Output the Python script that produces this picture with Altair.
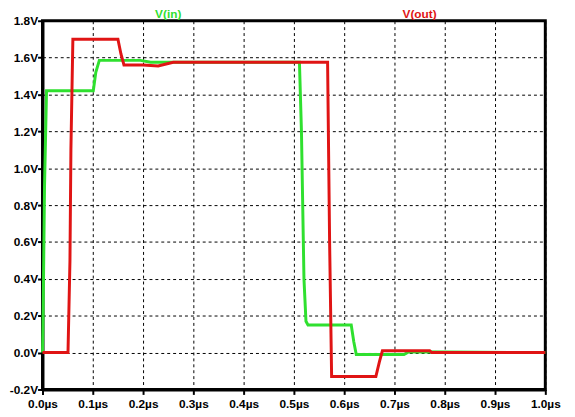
import altair as alt
import pandas as pd

# ---- data ----
time_in = [0.0, 0.001, 0.004, 0.008, 0.101, 0.106, 0.113, 0.195, 0.215, 0.24,
           0.511, 0.515, 0.520, 0.524, 0.528, 0.614, 0.619, 0.624, 0.719, 0.729,
           0.80, 1.0]
volt_in = [0.0, 0.15, 0.9, 1.42, 1.42, 1.52, 1.585, 1.585, 1.575, 1.575,
           1.575, 1.2, 0.4, 0.17, 0.15, 0.15, 0.06, -0.01, -0.01, 0.005,
           0.003, 0.0]

time_out = [0.0, 0.0507, 0.0546, 0.0565, 0.0604, 0.150, 0.156, 0.162, 0.20,
            0.23, 0.26, 0.567, 0.571, 0.575, 0.663, 0.670, 0.676, 0.770,
            0.774, 1.0]
volt_out = [0.0, 0.0, 0.5, 1.1, 1.70, 1.70, 1.62, 1.56, 1.56,
            1.555, 1.575, 1.575, 0.6, -0.13, -0.13, -0.05, 0.01, 0.01,
            0.0, 0.0]

trace_names = ["V(in)", "V(out)"]
label_times = [0.25, 0.75]
x_ticks = [0.0, 0.1, 0.2, 0.3, 0.4, 0.5, 0.6, 0.7, 0.8, 0.9, 1.0]
y_ticks = [-0.2, 0.0, 0.2, 0.4, 0.6, 0.8, 1.0, 1.2, 1.4, 1.6, 1.8]

GREEN = "#2fe02f"
RED = "#e01414"
FONT = "Liberation Sans"

df_in = pd.DataFrame({"t": time_in, "v": volt_in, "i": range(len(time_in))})
df_out = pd.DataFrame({"t": time_out, "v": volt_out, "i": range(len(time_out))})

x_enc = alt.X(
    "t:Q",
    scale=alt.Scale(domain=[0, 1], nice=False, zero=False),
    axis=alt.Axis(
        values=x_ticks,
        labelExpr="format(datum.value, '.1f') + 'µs'",
        title=None,
        tickSize=5,
        labelPadding=4,
        labelFlush=False,
        labelOverlap=False,
    ),
)
y_enc = alt.Y(
    "v:Q",
    scale=alt.Scale(domain=[-0.2, 1.8], nice=False, zero=False),
    axis=alt.Axis(
        values=y_ticks,
        labelExpr="(datum.value < 0 ? '-' : '') + format(abs(datum.value), '.1f') + 'V'",
        title=None,
        tickSize=5,
        labelPadding=0,
        labelFlush=False,
        labelOverlap=False,
    ),
)

line_in = alt.Chart(df_in).mark_line(color=GREEN, strokeWidth=3).encode(
    x=x_enc, y=y_enc, order="i:Q"
)
line_out = alt.Chart(df_out).mark_line(color=RED, strokeWidth=3).encode(
    x=x_enc, y=y_enc, order="i:Q"
)

lbl_in = alt.Chart().mark_text(
    text=trace_names[0], color=GREEN, font=FONT, fontSize=12, fontWeight="bold",
    baseline="alphabetic", align="center"
).encode(x=alt.datum(label_times[0]), y=alt.value(-3))
lbl_out = alt.Chart().mark_text(
    text=trace_names[1], color=RED, font=FONT, fontSize=12, fontWeight="bold",
    baseline="alphabetic", align="center"
).encode(x=alt.datum(label_times[1]), y=alt.value(-3))

chart = (
    alt.layer(line_in, line_out, lbl_in, lbl_out)
    .properties(
        width=510,
        height=374,
        padding={"left": 35, "top": 10, "right": 22, "bottom": 25},
        autosize=alt.AutoSizeParams(type="none"),
        background="white",
    )
    .configure_view(stroke="black", strokeWidth=3, fill="white")
    .configure_axis(
        domainColor="black",
        domainWidth=3,
        tickColor="black",
        tickWidth=2,
        grid=True,
        gridColor="black",
        gridDash=[3, 3],
        gridWidth=1,
        gridOpacity=1,
        labelFont=FONT,
        labelFontSize=12,
        labelFontWeight="bold",
        labelColor="black",
    )
)

chart.save("out.html", embed_options={"renderer": "svg", "actions": False})
